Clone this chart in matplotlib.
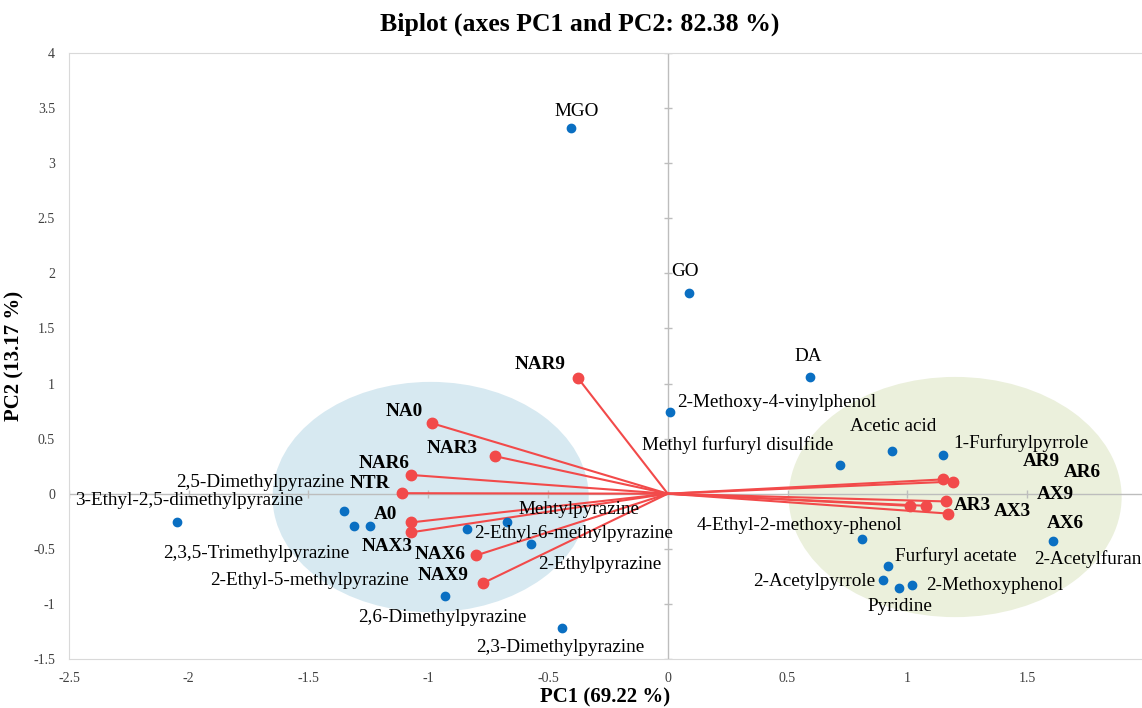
import numpy as np
import matplotlib.pyplot as plt
from matplotlib.patches import Ellipse

plt.rcParams['font.family'] = ['Liberation Serif', 'DejaVu Serif']

# observations (blue points)
obs_names = ['MGO', 'GO', 'DA', '2-Methoxy-4-vinylphenol', 'Methyl furfuryl disulfide',
             'Acetic acid', '1-Furfurylpyrrole', '4-Ethyl-2-methoxy-phenol', '2-Acetylfuran',
             'Furfuryl acetate', '2-Acetylpyrrole', '2-Methoxyphenol', 'Pyridine',
             '3-Ethyl-2,5-dimethylpyrazine', '2,5-Dimethylpyrazine', '2,3,5-Trimethylpyrazine',
             '2-Ethyl-5-methylpyrazine', '2,6-Dimethylpyrazine', 'Mehtylpyrazine',
             '2-Ethyl-6-methylpyrazine', '2-Ethylpyrazine', '2,3-Dimethylpyrazine']
obs_x = [-0.405, 0.088, 0.593, 0.008, 0.72, 0.935, 1.15, 0.81, 1.61, 0.92, 0.90, 1.02, 0.965,
         -2.05, -1.35, -1.31, -1.245, -0.93, -0.67, -0.84, -0.57, -0.44]
obs_y = [3.32, 1.82, 1.06, 0.74, 0.26, 0.39, 0.35, -0.41, -0.43, -0.66, -0.78, -0.83, -0.86,
         -0.26, -0.155, -0.29, -0.29, -0.93, -0.26, -0.32, -0.46, -1.22]
# label anchors (x, y, ha)
obs_lab = [(-0.38, 3.47, 'center'), (0.07, 2.02, 'center'), (0.585, 1.245, 'center'),
           (0.04, 0.83, 'left'), (0.69, 0.445, 'right'), (0.94, 0.61, 'center'),
           (1.19, 0.46, 'left'), (0.98, -0.29, 'right'), (1.53, -0.59, 'left'),
           (0.95, -0.57, 'left'), (0.865, -0.80, 'right'), (1.08, -0.83, 'left'),
           (0.97, -1.02, 'center'), (-2.475, -0.06, 'left'), (-1.35, 0.10, 'right'),
           (-1.33, -0.54, 'right'), (-1.08, -0.79, 'right'), (-0.94, -1.12, 'center'),
           (-0.37, -0.14, 'center'), (-0.81, -0.36, 'left'), (-0.54, -0.64, 'left'),
           (-0.45, -1.40, 'center')]

# variables (red vectors)
var_names = ['NAR9', 'NA0', 'NAR3', 'NAR6', 'NTR', 'A0', 'NAX3', 'NAX6', 'NAX9',
             'AR9', 'AR6', 'AR3', 'AX3', 'AX9', 'AX6']
var_x = [-0.375, -0.985, -0.72, -1.07, -1.11, -1.07, -1.07, -0.80, -0.77,
         1.15, 1.19, 1.16, 1.17, 1.01, 1.08]
var_y = [1.05, 0.64, 0.34, 0.17, 0.005, -0.26, -0.35, -0.56, -0.81,
         0.13, 0.11, -0.07, -0.18, -0.11, -0.11]
var_lab = [(-0.535, 1.17), (-1.10, 0.745), (-0.90, 0.41), (-1.185, 0.27), (-1.245, 0.09),
           (-1.18, -0.19), (-1.17, -0.48), (-0.95, -0.555), (-0.94, -0.74),
           (1.56, 0.29), (1.73, 0.19), (1.27, -0.11), (1.44, -0.165), (1.62, -0.01), (1.66, -0.27)]

fig = plt.figure(figsize=(11.42, 7.08), dpi=100)
ax = fig.add_axes([0.0604, 0.0692, 0.9396, 0.856])

ax.add_patch(Ellipse((-0.99, -0.03), 1.32, 2.09, facecolor='#d7e9f1', edgecolor='none', zorder=0))
ax.add_patch(Ellipse((1.20, -0.03), 1.39, 2.18, facecolor='#ebf0dc', edgecolor='none', zorder=0))

ax.axhline(0, color='#bdbdbd', lw=1, zorder=1)
ax.axvline(0, color='#bdbdbd', lw=1, zorder=1)
yt = np.arange(-1.5, 4.01, 0.5)
xt = np.arange(-2.5, 1.51, 0.5)
ax.plot(np.zeros(len(yt)), yt, ls='none', marker='_', ms=6, color='#bdbdbd', zorder=1)
ax.plot(xt, np.zeros(len(xt)), ls='none', marker='|', ms=6, color='#bdbdbd', zorder=1)

for x, y in zip(var_x, var_y):
    ax.plot([0, x], [0, y], color='#f24a4a', lw=1.5, zorder=2)
ax.plot(var_x, var_y, 'o', color='#f24a4a', ms=7.5, zorder=3)
for n, (lx, ly) in zip(var_names, var_lab):
    ax.text(lx, ly, n, ha='center', va='center', fontsize=13.8, fontweight='bold', zorder=4)

ax.plot(obs_x, obs_y, 'o', color='#0a6fc2', ms=6, zorder=3)
for n, (lx, ly, ha) in zip(obs_names, obs_lab):
    ax.text(lx, ly, n, ha=ha, va='center', fontsize=13.8, zorder=4)

ax.set_xlim(-2.5, 1.98)
ax.set_ylim(-1.5, 4)
ax.set_xticks(xt)
ax.set_yticks(yt)
ax.set_xticklabels(['%g' % v for v in xt])
ax.set_yticklabels(['%g' % v for v in yt])
ax.tick_params(axis='x', length=0, labelsize=10, colors='#404040', pad=9)
ax.tick_params(axis='y', length=0, labelsize=10, colors='#404040', pad=10)
for s in ['left', 'bottom', 'top']:
    ax.spines[s].set_color('#d9d9d9')
ax.spines['right'].set_visible(False)

ax.set_xlabel('PC1 (69.22 %)', fontsize=15, fontweight='bold', labelpad=2)
ax.set_ylabel('PC2 (13.17 %)', fontsize=15, fontweight='bold', labelpad=6)
fig.text(0.508, 0.966, 'Biplot (axes PC1 and PC2: 82.38 %)', ha='center', va='center',
         fontsize=18.5, fontweight='bold')

fig.savefig('out.png', dpi=100)
